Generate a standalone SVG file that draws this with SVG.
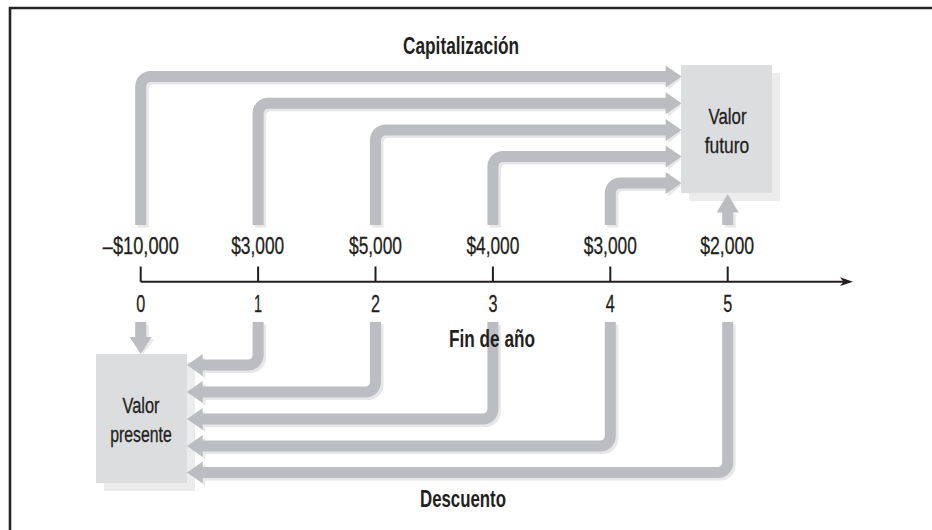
<svg xmlns="http://www.w3.org/2000/svg" width="932" height="530" viewBox="0 0 932 530">
<style>
.frame{stroke:#262425;stroke-width:2.6;fill:none}
.band{fill:none;stroke:#bcbdc0;stroke-width:11}
.band-sh{fill:none;stroke:#e7e7e8;stroke-width:11}
.head{fill:#bcbdc0}
.head-sh{fill:#e7e7e8}
.box{fill:#dcdddf}
.box-sh{fill:#ececed}
.axis{stroke:#231f20;stroke-width:2;fill:none}
text{font-family:"Liberation Sans Narrow","Liberation Sans",Arial,sans-serif;fill:#231f20;text-anchor:middle}
.lbl{font-size:23px;stroke:#231f20;stroke-width:0.3}
.box-lbl{font-size:21.5px;stroke:#231f20;stroke-width:0.3}
.ttl{font-size:24px;font-weight:bold}
</style>
<rect width="932" height="530" fill="#ffffff"/>
<path class="frame" d="M10 530 V8 H932"/>

<g id="connector-shadows" transform="translate(2.5,2.5)">
  <path class="band-sh" d="M140.7 225 V86.5 A10 10 0 0 1 150.7 76.5 H667"/>
  <path class="band-sh" d="M258.1 225 V113.2 A10 10 0 0 1 268.1 103.2 H667"/>
  <path class="band-sh" d="M375.5 225 V139.9 A10 10 0 0 1 385.5 129.9 H667"/>
  <path class="band-sh" d="M492.9 225 V166.5 A10 10 0 0 1 502.9 156.5 H667"/>
  <path class="band-sh" d="M610.3 225 V193 A10 10 0 0 1 620.3 183 H667"/>
  <polygon class="head-sh" points="665.7,65.5 678.5,76.5 665.7,87.5"/>
  <polygon class="head-sh" points="665.7,92.2 678.5,103.2 665.7,114.2"/>
  <polygon class="head-sh" points="665.7,118.9 678.5,129.9 665.7,140.9"/>
  <polygon class="head-sh" points="665.7,145.5 678.5,156.5 665.7,167.5"/>
  <polygon class="head-sh" points="665.7,172 678.5,183 665.7,194"/>
  <path class="band-sh" d="M727.7 225 V211"/>
  <path class="band-sh" d="M140.7 322 V338"/>
  <polygon class="head-sh" points="129.7,337 151.7,337 140.7,351"/>
  <path class="band-sh" d="M258.1 322 V355 A10 10 0 0 1 248.1 365 H202"/>
  <path class="band-sh" d="M375.5 322 V382 A10 10 0 0 1 365.5 392 H202"/>
  <path class="band-sh" d="M492.9 322 V409 A10 10 0 0 1 482.9 419 H202"/>
  <path class="band-sh" d="M610.3 322 V436 A10 10 0 0 1 600.3 446 H202"/>
  <path class="band-sh" d="M727.7 322 V462.5 A10 10 0 0 1 717.7 472.5 H202"/>
  <polygon class="head-sh" points="202.7,354 190,365 202.7,376"/>
  <polygon class="head-sh" points="202.7,381 190,392 202.7,403"/>
  <polygon class="head-sh" points="202.7,408 190,419 202.7,430"/>
  <polygon class="head-sh" points="202.7,435 190,446 202.7,457"/>
  <polygon class="head-sh" points="202.7,461.5 190,472.5 202.7,483.5"/>
</g>

<g id="valor-futuro">
  <rect class="box-sh" x="689" y="73" width="91" height="128"/>
  <rect class="box" x="681" y="65" width="91" height="128"/>
  <text class="box-lbl" x="727.5" y="124" textLength="38" lengthAdjust="spacingAndGlyphs">Valor</text>
  <text class="box-lbl" x="727" y="153" textLength="44.5" lengthAdjust="spacingAndGlyphs">futuro</text>
</g>

<g id="valor-presente">
  <rect class="box-sh" x="104" y="362" width="91" height="129"/>
  <rect class="box" x="96" y="354" width="91" height="129"/>
  <text class="box-lbl" x="141" y="412.5" textLength="37" lengthAdjust="spacingAndGlyphs">Valor</text>
  <text class="box-lbl" x="141" y="441.5" textLength="61.5" lengthAdjust="spacingAndGlyphs">presente</text>
</g>

<g id="connectors">
  <path class="band" d="M140.7 225 V86.5 A10 10 0 0 1 150.7 76.5 H667"/>
  <path class="band" d="M258.1 225 V113.2 A10 10 0 0 1 268.1 103.2 H667"/>
  <path class="band" d="M375.5 225 V139.9 A10 10 0 0 1 385.5 129.9 H667"/>
  <path class="band" d="M492.9 225 V166.5 A10 10 0 0 1 502.9 156.5 H667"/>
  <path class="band" d="M610.3 225 V193 A10 10 0 0 1 620.3 183 H667"/>
  <polygon class="head" points="665.7,65.5 681.5,76.5 665.7,87.5"/>
  <polygon class="head" points="665.7,92.2 681.5,103.2 665.7,114.2"/>
  <polygon class="head" points="665.7,118.9 681.5,129.9 665.7,140.9"/>
  <polygon class="head" points="665.7,145.5 681.5,156.5 665.7,167.5"/>
  <polygon class="head" points="665.7,172 681.5,183 665.7,194"/>
  <path class="band" d="M727.7 225 V211"/>
  <polygon class="head" points="716.7,212.5 738.7,212.5 727.7,194"/>
  <path class="band" d="M140.7 322 V338"/>
  <polygon class="head" points="129.7,337 151.7,337 140.7,354"/>
  <path class="band" d="M258.1 322 V355 A10 10 0 0 1 248.1 365 H202"/>
  <path class="band" d="M375.5 322 V382 A10 10 0 0 1 365.5 392 H202"/>
  <path class="band" d="M492.9 322 V409 A10 10 0 0 1 482.9 419 H202"/>
  <path class="band" d="M610.3 322 V436 A10 10 0 0 1 600.3 446 H202"/>
  <path class="band" d="M727.7 322 V462.5 A10 10 0 0 1 717.7 472.5 H202"/>
  <polygon class="head" points="202.7,354 187,365 202.7,376"/>
  <polygon class="head" points="202.7,381 187,392 202.7,403"/>
  <polygon class="head" points="202.7,408 187,419 202.7,430"/>
  <polygon class="head" points="202.7,435 187,446 202.7,457"/>
  <polygon class="head" points="202.7,461.5 187,472.5 202.7,483.5"/>
</g>

<g id="timeline">
  <path class="axis" d="M140.7 281.7 H845"/>
  <polygon fill="#231f20" points="853,281.7 840,277.3 843.5,281.7 840,286.1"/>
  <path class="axis" d="M140.7 266.5 V281.7 M258.1 266.5 V281.7 M375.5 266.5 V281.7 M492.9 266.5 V281.7 M610.3 266.5 V281.7 M727.7 266.5 V281.7"/>
  <text class="lbl" x="140.8" y="254" textLength="76" lengthAdjust="spacingAndGlyphs">–$10,000</text>
  <text class="lbl" x="257.7" y="254" textLength="53" lengthAdjust="spacingAndGlyphs">$3,000</text>
  <text class="lbl" x="375.5" y="254" textLength="53" lengthAdjust="spacingAndGlyphs">$5,000</text>
  <text class="lbl" x="492.9" y="254" textLength="53" lengthAdjust="spacingAndGlyphs">$4,000</text>
  <text class="lbl" x="610.3" y="254" textLength="53" lengthAdjust="spacingAndGlyphs">$3,000</text>
  <text class="lbl" x="727.2" y="254" textLength="54" lengthAdjust="spacingAndGlyphs">$2,000</text>
  <text class="lbl" x="140.7" y="311.5" textLength="9" lengthAdjust="spacingAndGlyphs">0</text>
  <text class="lbl" x="258.1" y="311.5" textLength="8" lengthAdjust="spacingAndGlyphs">1</text>
  <text class="lbl" x="375.5" y="311.5" textLength="9" lengthAdjust="spacingAndGlyphs">2</text>
  <text class="lbl" x="492.9" y="311.5" textLength="9" lengthAdjust="spacingAndGlyphs">3</text>
  <text class="lbl" x="610.3" y="311.5" textLength="9" lengthAdjust="spacingAndGlyphs">4</text>
  <text class="lbl" x="727.7" y="311.5" textLength="9" lengthAdjust="spacingAndGlyphs">5</text>
</g>

<g id="titles">
  <text class="ttl" x="461" y="53.5" textLength="116" lengthAdjust="spacingAndGlyphs">Capitalización</text>
  <text class="ttl" x="492" y="347" textLength="86" lengthAdjust="spacingAndGlyphs">Fin de año</text>
  <text class="ttl" x="463" y="506.5" textLength="86" lengthAdjust="spacingAndGlyphs">Descuento</text>
</g>
</svg>
